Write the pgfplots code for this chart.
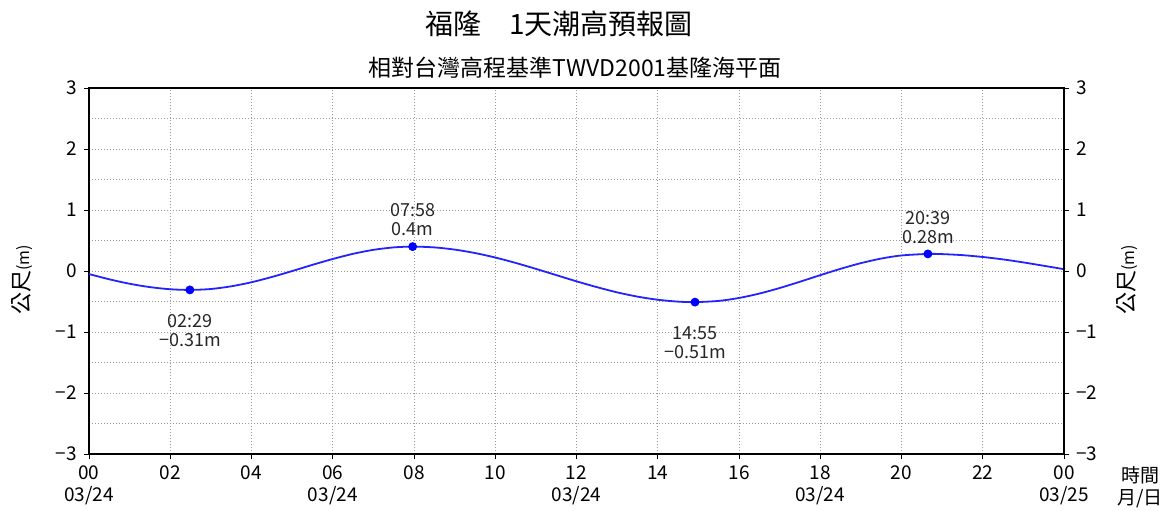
\documentclass[border=0pt]{standalone}
\usepackage{pgfplots}
\pgfplotsset{compat=1.18}
\usepackage{fontspec}
\setmainfont{Noto Sans CJK TC}

\definecolor{tideblue}{RGB}{35,35,255}

\pgfplotsset{
  tide/.style={
    at={(0,0)}, anchor=south west,
    scale only axis, width=487.5pt, height=183pt,
    xmin=0, xmax=24, ymin=-3, ymax=3,
    ytick={-3,...,3},
    yticklabels={−3,−2,−1,0,1,2,3},
    tick align=outside, major tick length=2.5pt,
    tick style={black, line width=0.5pt},
    axis line style={black, line width=0.7pt},
    /pgf/number format/assume math mode=true,
    ticklabel style={font=\fontsize{9.5}{11}\selectfont},
  }
}

\begin{document}
\begin{tikzpicture}
  \begin{axis}[
      tide,
      xtick={0,2,...,24},
      xticklabels={{00\\03/24},02,04,{06\\03/24},08,10,{12\\03/24},14,16,{18\\03/24},20,22,{00\\03/25}},
      xticklabel style={align=center},
      minor ytick={-2.5,-1.5,...,2.5},
      minor tick length=0pt,
      xtick pos=bottom, ytick pos=left,
      grid=both,
      major grid style={black!40, dash pattern=on 0.5pt off 1pt, line width=0.5pt},
      minor grid style={black!40, dash pattern=on 0.5pt off 1pt, line width=0.5pt},
    ]

    % predicted tide height
    \addplot[tideblue, line width=0.9pt, smooth] coordinates {
        (0,-0.050) (0.5,-0.136) (1,-0.209) (1.5,-0.264) (2,-0.299) (2.483,-0.310)
        (3,-0.295) (3.5,-0.251) (4,-0.184) (4.5,-0.098) (5,-0.001) (5.5,0.101)
        (6,0.197) (6.5,0.282) (7,0.347) (7.5,0.387) (7.967,0.400) (8.5,0.387)
        (9,0.351) (9.5,0.295) (10,0.221) (10.5,0.133) (11,0.035) (11.5,-0.067)
        (12,-0.169) (12.5,-0.264) (13,-0.350) (13.5,-0.420) (14,-0.471) (14.5,-0.502)
        (14.917,-0.510) (15.5,-0.490) (16,-0.442) (16.5,-0.370) (17,-0.279)
        (17.5,-0.176) (18,-0.068) (18.5,0.036) (19,0.129) (19.5,0.204) (20,0.255)
        (20.65,0.280) (21,0.277) (21.5,0.260) (22,0.230) (22.5,0.190) (23,0.141)
        (23.5,0.086) (24,0.030)
      };

    % high and low water
    \addplot[only marks, mark=*, mark size=2pt, blue] coordinates {
        (2.483,-0.31) (7.967,0.40) (14.917,-0.51) (20.65,0.28)
      };

    \begin{scope}[every node/.style={align=center, inner sep=0pt, text=black!85,
          font=\fontsize{9}{9.5}\selectfont}]
      \node[anchor=north, yshift=-12pt] at (axis cs:2.483,-0.31) {02:29\\−0.31m};
      \node[anchor=south, yshift=5pt] at (axis cs:7.967,0.40) {07:58\\0.4m};
      \node[anchor=north, yshift=-12pt] at (axis cs:14.917,-0.51) {14:55\\−0.51m};
      \node[anchor=south, yshift=5pt] at (axis cs:20.65,0.28) {20:39\\0.28m};
    \end{scope}
  \end{axis}

  \begin{axis}[
      tide,
      axis x line=none, axis y line*=right,
    ]
  \end{axis}

  % titles and axis names
  \node[anchor=base, font=\fontsize{14}{16}\selectfont] at (235pt,210pt) {福隆\hspace{1em}1天潮高預報圖};
  \node[anchor=base, font=\fontsize{11.5}{13}\selectfont] at (243pt,189pt) {相對台灣高程基準TWVD2001基隆海平面};
  \node[rotate=90, font=\fontsize{11}{13}\selectfont] at (-33.5pt,87pt) {公尺{\fontsize{8}{9}\selectfont(m)}};
  \node[rotate=90, font=\fontsize{11}{13}\selectfont] at (519pt,87pt) {公尺{\fontsize{8}{9}\selectfont(m)}};
  \node[anchor=north, align=center, font=\fontsize{9.5}{11}\selectfont] at (525.5pt,-2.5pt) {時間\\月/日};

  \pgfresetboundingbox
  \path[use as bounding box] (-44.5pt,-28pt) rectangle (542pt,227pt);
\end{tikzpicture}
\end{document}
